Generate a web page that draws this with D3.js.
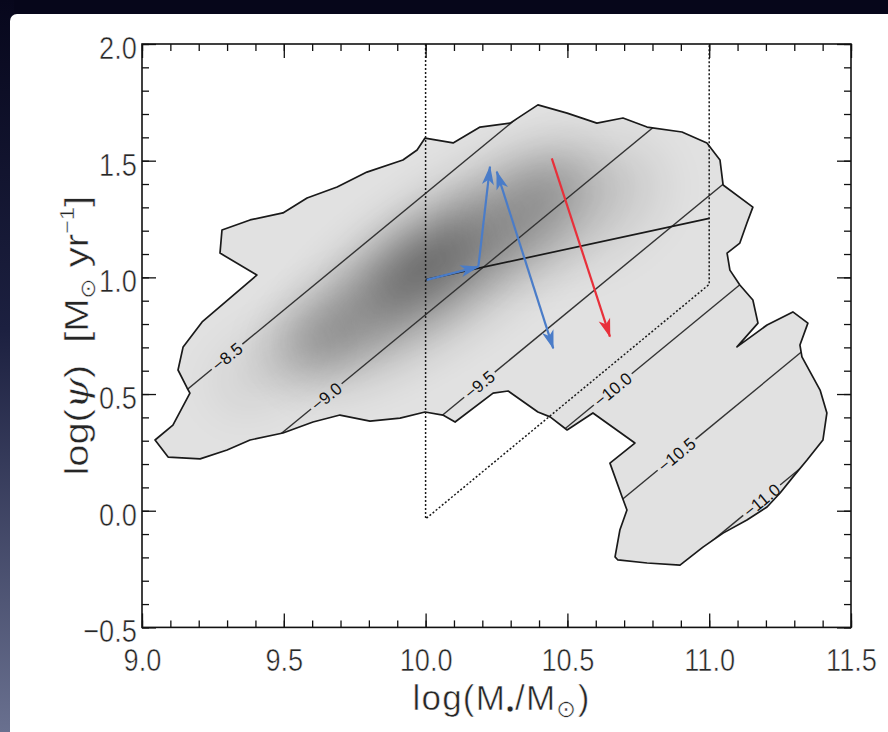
<!DOCTYPE html>
<html>
<head>
<meta charset="utf-8">
<script src="https://cdn.jsdelivr.net/npm/d3@7"></script>
<style>
  html, body { margin: 0; padding: 0; background: #06061a; }
  svg { display: block; }
  text { font-family: "Liberation Sans", Arial, sans-serif; }
</style>
</head>
<body>
<div id="chart"></div>
<script>
// axis ranges and ticks
const xDomain = [9.0, 11.5];
const yDomain = [-0.5, 2.0];
const xMajorTicks = [9.0, 9.5, 10.0, 10.5, 11.0, 11.5];
const yMajorTicks = [-0.5, 0.0, 0.5, 1.0, 1.5, 2.0];

// outer density contour (log M*, log psi)
const contourLogM = [9.046, 9.109, 9.169, 9.159, 9.127, 9.145, 9.212, 9.405, 9.275, 9.282,
  9.381, 9.497, 9.582, 9.688, 9.793, 9.920, 9.970, 9.998, 10.097, 10.192,
  10.298, 10.396, 10.499, 10.604, 10.696, 10.781, 10.904, 10.992, 11.038, 11.049,
  11.154, 11.133, 11.108, 11.063, 11.073, 11.108, 11.154, 11.172, 11.098, 11.204,
  11.295, 11.348, 11.320, 11.327, 11.391, 11.415, 11.401, 11.345, 11.295, 11.250,
  11.204, 11.133, 11.049, 10.978, 10.897, 10.781, 10.678, 10.668, 10.685, 10.710,
  10.693, 10.650, 10.738, 10.590, 10.499, 10.439, 10.396, 10.291, 10.238, 10.104,
  10.061, 9.998, 9.910, 9.804, 9.698, 9.603, 9.497, 9.381, 9.300, 9.205, 9.092];
const contourLogSFR = [0.303, 0.367, 0.504, 0.526, 0.603, 0.702, 0.809, 1.010, 1.104, 1.203,
  1.246, 1.276, 1.340, 1.387, 1.451, 1.503, 1.546, 1.597, 1.576, 1.644,
  1.661, 1.739, 1.704, 1.661, 1.683, 1.644, 1.623, 1.576, 1.503, 1.396,
  1.301, 1.233, 1.147, 1.104, 1.031, 0.967, 0.903, 0.804, 0.702, 0.796,
  0.852, 0.804, 0.710, 0.659, 0.517, 0.419, 0.303, 0.217, 0.144, 0.076,
  0.016, -0.040, -0.096, -0.156, -0.233, -0.224, -0.211, -0.198, -0.083, 0.003,
  0.059, 0.204, 0.290, 0.419, 0.346, 0.402, 0.423, 0.513, 0.504, 0.380,
  0.410, 0.423, 0.397, 0.384, 0.410, 0.380, 0.333, 0.303, 0.260, 0.222, 0.230];

// grey density peaks: centre, spread along / across the ridge (dex), ridge slope, depth
const blobLogM   = [10.00, 9.63, 10.05, 10.50, 9.45];
const blobLogSFR = [1.05, 0.78, 1.05, 1.30, 0.62];
const blobAlong  = [0.24, 0.20, 0.62, 0.34, 0.22];
const blobAcross = [0.09, 0.09, 0.22, 0.22, 0.10];
const blobSlope  = [0.80, 0.80, 0.85, 0.50, 0.80];
const blobDepth  = [0.50, 0.20, 0.30, 0.12, 0.10];

// constant specific SFR lines: label, log psi where log M* = 10, log M* of label
const ssfrLabels = ['\u22128.5', '\u22129.0', '\u22129.5', '\u221210.0', '\u221210.5', '\u221211.0'];
const ssfrAt10   = [1.36, 0.84, 0.35, -0.14, -0.645, -1.14];
const ssfrLabelM = [9.30, 9.65, 10.19, 10.66, 10.885, 11.185];

// dotted selection box and solid relation line
const boxLogM   = [10.0, 10.0, 11.0, 11.0];
const boxLogSFR = [2.0, -0.035, 0.97, 2.0];
const msLogM    = [10.0, 11.0];
const msLogSFR  = [0.99, 1.253];

// arrows [from logM, from logSFR, to logM, to logSFR]
const blueArrows = [
  [10.004, 0.989, 10.186, 1.046],
  [10.186, 1.046, 10.227, 1.474],
  [10.251, 1.453, 10.450, 0.696]
];
const redArrows = [
  [10.445, 1.510, 10.650, 0.746]
];

const W = 888, H = 732;
const squeeze = 0.85;   // the picture's lettering is narrower than it is tall
const x = d3.scaleLinear().domain(xDomain).range([142, 851]);
const y = d3.scaleLinear().domain(yDomain).range([627.4, 44]);

const svg = d3.select('#chart').append('svg')
    .attr('width', W)
    .attr('height', H);

const defs = svg.append('defs');

// slide frame
const edge = defs.append('linearGradient').attr('id', 'edge')
    .attr('x1', 0).attr('y1', 0).attr('x2', 0).attr('y2', 1);
edge.append('stop').attr('offset', '0%').attr('stop-color', '#07071c');
edge.append('stop').attr('offset', '45%').attr('stop-color', '#1c2040');
edge.append('stop').attr('offset', '100%').attr('stop-color', '#69708f');
svg.append('rect').attr('width', W).attr('height', H).attr('fill', '#06061a');
svg.append('rect').attr('width', 14).attr('height', H).attr('fill', 'url(#edge)');
svg.append('rect')
    .attr('x', 10).attr('y', 14)
    .attr('width', W + 20).attr('height', H + 20)
    .attr('rx', 7)
    .attr('fill', '#ffffff');

defs.append('filter').attr('id', 'blur')
    .attr('filterUnits', 'userSpaceOnUse')
    .attr('x', -600).attr('y', -600).attr('width', 2200).attr('height', 2200)
    .append('feGaussianBlur').attr('stdDeviation', 26);

const contourPts = contourLogM.map((m, i) => [m, contourLogSFR[i]]);
const area = d3.line()
    .x(d => x(d[0]))
    .y(d => y(d[1]))
    .curve(d3.curveLinearClosed);

defs.append('clipPath').attr('id', 'cclip')
    .append('path').attr('d', area(contourPts));

// filled contour with grey density
svg.append('path')
    .attr('d', area(contourPts))
    .attr('fill', '#e1e1e1');

const dens = svg.append('g').attr('clip-path', 'url(#cclip)');
const pxRatio = (y(0) - y(1)) / (x(1) - x(0));
blobLogM.forEach((m, i) => {
  const cx = x(m), cy = y(blobLogSFR[i]);
  const ang = Math.atan(blobSlope[i] * pxRatio) * 180 / Math.PI;
  dens.append('ellipse')
      .attr('cx', cx)
      .attr('cy', cy)
      .attr('rx', x(m + blobAlong[i]) - cx)
      .attr('ry', cy - y(blobLogSFR[i] + blobAcross[i]))
      .attr('transform', 'rotate(' + (-ang) + ',' + cx + ',' + cy + ')')
      .attr('fill', '#000')
      .attr('opacity', blobDepth[i])
      .attr('filter', 'url(#blur)');
});

// sSFR lines, broken where the label sits
const lineG = svg.append('g').attr('clip-path', 'url(#cclip)');
const labelG = svg.append('g');
ssfrAt10.forEach((a, i) => {
  const lm = ssfrLabelM[i];
  const px = x(lm), py = y(a + lm - 10);
  const ax = x(9.0), ay = y(a - 1.0);
  const bx = x(11.5), by = y(a + 1.5);
  const len = Math.hypot(bx - ax, by - ay);
  const ux = (bx - ax) / len, uy = (by - ay) / len;
  const ang = Math.atan2(uy, ux) * 180 / Math.PI;

  const t = labelG.append('text')
      .attr('transform', 'translate(' + px + ',' + py + ') rotate(' + ang + ')')
      .attr('text-anchor', 'middle')
      .attr('dy', '0.36em')
      .attr('font-size', 17)
      .attr('fill', '#111')
      .text(ssfrLabels[i]);
  const half = t.node().getComputedTextLength() / 2 + 3;

  lineG.append('line')
      .attr('x1', ax).attr('y1', ay)
      .attr('x2', px - ux * half).attr('y2', py - uy * half)
      .attr('stroke', '#333').attr('stroke-width', 1.4);
  lineG.append('line')
      .attr('x1', px + ux * half).attr('y1', py + uy * half)
      .attr('x2', bx).attr('y2', by)
      .attr('stroke', '#333').attr('stroke-width', 1.4);
});

// contour outline
svg.append('path')
    .attr('d', area(contourPts))
    .attr('fill', 'none')
    .attr('stroke', '#1a1a1a')
    .attr('stroke-width', 1.7)
    .attr('stroke-linejoin', 'round');

// dotted box
svg.append('path')
    .attr('d', d3.line().x(d => x(d[0])).y(d => y(d[1]))(boxLogM.map((m, i) => [m, boxLogSFR[i]])))
    .attr('fill', 'none')
    .attr('stroke', '#1a1a1a')
    .attr('stroke-width', 1.5)
    .attr('stroke-dasharray', '2,2');

// solid relation line
svg.append('line')
    .attr('x1', x(msLogM[0])).attr('y1', y(msLogSFR[0]))
    .attr('x2', x(msLogM[1])).attr('y2', y(msLogSFR[1]))
    .attr('stroke', '#1a1a1a')
    .attr('stroke-width', 1.7);

// arrow heads
function head(id, color) {
  defs.append('marker')
      .attr('id', id)
      .attr('viewBox', '-20 -7 22 14')
      .attr('refX', 0).attr('refY', 0)
      .attr('markerUnits', 'userSpaceOnUse')
      .attr('markerWidth', 22).attr('markerHeight', 14)
      .attr('orient', 'auto-start-reverse')
      .append('path')
      .attr('d', 'M1,0 L-18,-6 L-13,0 L-18,6 Z')
      .attr('fill', color);
}
head('hb', '#4a7cc8');
head('hr', '#e8303a');

blueArrows.forEach((a, i) => {
  svg.append('line')
      .attr('x1', x(a[0])).attr('y1', y(a[1]))
      .attr('x2', x(a[2])).attr('y2', y(a[3]))
      .attr('stroke', '#4a7cc8')
      .attr('stroke-width', 2.2)
      .attr('marker-end', 'url(#hb)')
      .attr('marker-start', i === 2 ? 'url(#hb)' : null);
});
redArrows.forEach(a => {
  svg.append('line')
      .attr('x1', x(a[0])).attr('y1', y(a[1]))
      .attr('x2', x(a[2])).attr('y2', y(a[3]))
      .attr('stroke', '#e8303a')
      .attr('stroke-width', 2.2)
      .attr('marker-end', 'url(#hr)');
});

// axes: inward ticks on all four sides
const xMinor = d3.range(90, 116).map(v => v / 10);
const yMinor = d3.range(-5, 21).map(v => v / 10);
const cleanAxis = g => {
  g.select('.domain').remove();
  g.selectAll('line').attr('stroke', '#111').attr('stroke-width', 1.3);
};
// slightly light lettering: a thin white outline eats into the glyphs
const thin = sel => sel
    .attr('fill', '#262626')
    .attr('stroke', '#fff')
    .attr('stroke-width', 0.55);
const axisFont = g => g.selectAll('text')
    .attr('font-family', '"Liberation Sans", Arial, sans-serif')
    .attr('font-size', 32)
    .call(thin);

svg.append('g').attr('transform', 'translate(0,' + y(-0.5) + ')')
    .call(d3.axisBottom(x).tickValues(xMinor).tickSize(-7).tickFormat(''))
    .call(cleanAxis);
svg.append('g').attr('transform', 'translate(0,' + y(-0.5) + ')')
    .call(d3.axisBottom(x).tickValues(xMajorTicks).tickSize(-14).tickPadding(21).tickFormat(d3.format('.1f')))
    .call(cleanAxis).call(axisFont)
    .selectAll('text').attr('transform', 'scale(' + squeeze + ',1)');
svg.append('g').attr('transform', 'translate(0,' + y(2.0) + ')')
    .call(d3.axisTop(x).tickValues(xMinor).tickSize(-7).tickFormat(''))
    .call(cleanAxis);
svg.append('g').attr('transform', 'translate(0,' + y(2.0) + ')')
    .call(d3.axisTop(x).tickValues(xMajorTicks).tickSize(-14).tickFormat(''))
    .call(cleanAxis);

svg.append('g').attr('transform', 'translate(' + x(9.0) + ',0)')
    .call(d3.axisLeft(y).tickValues(yMinor).tickSize(-7).tickFormat(''))
    .call(cleanAxis);
svg.append('g').attr('transform', 'translate(' + x(9.0) + ',0)')
    .call(d3.axisLeft(y).tickValues(yMajorTicks).tickSize(-14).tickPadding(6)
        .tickFormat(d => d3.format('.1f')(d).replace('-', '\u2212')))
    .call(cleanAxis).call(axisFont)
    .selectAll('text').attr('dy', '0.45em').attr('transform', 'scale(' + squeeze + ',1)');
svg.append('g').attr('transform', 'translate(' + x(11.5) + ',0)')
    .call(d3.axisRight(y).tickValues(yMinor).tickSize(-7).tickFormat(''))
    .call(cleanAxis);
svg.append('g').attr('transform', 'translate(' + x(11.5) + ',0)')
    .call(d3.axisRight(y).tickValues(yMajorTicks).tickSize(-14).tickFormat(''))
    .call(cleanAxis);

svg.append('rect')
    .attr('x', x(9.0)).attr('y', y(2.0))
    .attr('width', x(11.5) - x(9.0))
    .attr('height', y(-0.5) - y(2.0))
    .attr('fill', 'none')
    .attr('stroke', '#111')
    .attr('stroke-width', 1.6);

// spread a title's letters until it spans the wanted length
function spreadTo(t, target) {
  const n = t.text().length;
  const w = t.node().getComputedTextLength();
  t.attr('letter-spacing', ((target - w) / n) + 'px');
}

// axis titles
const xt = svg.append('text')
    .attr('text-anchor', 'middle')
    .attr('font-size', 35)
    .call(thin);
xt.append('tspan').text('log(M');
xt.append('tspan').attr('font-size', 22).attr('dy', 6).text('\u2022');
xt.append('tspan').attr('dy', -6).text('/M');
xt.append('tspan').attr('font-size', 24).attr('dy', 7).text('\u2299');
xt.append('tspan').attr('dy', -7).text(')');
spreadTo(xt, 178);
xt.attr('transform', 'translate(' + (x(10.25) + 5) + ',710)');

const yt = svg.append('text')
    .attr('text-anchor', 'middle')
    .attr('font-size', 40)
    .call(thin);
yt.append('tspan').text('log(');
yt.append('tspan').attr('font-family', '"DejaVu Serif", serif').attr('font-style', 'italic').text('\u03c8');
yt.append('tspan').text(')\u00a0\u00a0[M');
yt.append('tspan').attr('font-size', 25).attr('dy', 8).text('\u2299');
yt.append('tspan').attr('dy', -8).text(' yr');
yt.append('tspan').attr('font-size', 24).attr('dy', -16).text('\u22121');
yt.append('tspan').attr('dy', 16).text(']');
spreadTo(yt, 280);
yt.attr('transform', 'translate(88,' + ((y(2.0) + y(-0.5)) / 2) + ') rotate(-90) scale(1,' + squeeze + ')');
</script>
</body>
</html>
